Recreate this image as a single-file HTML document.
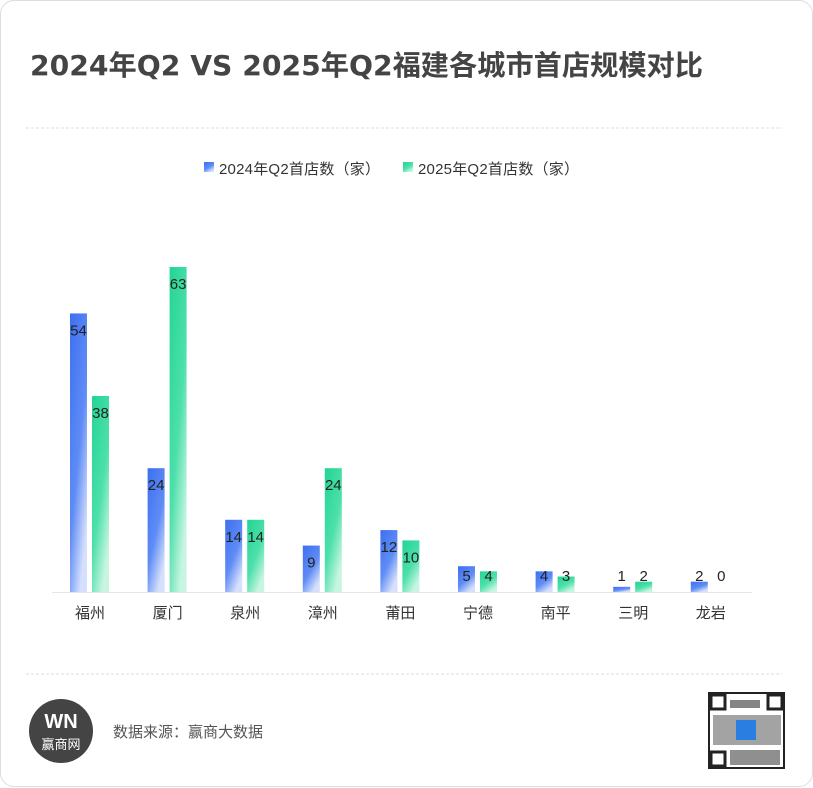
<!DOCTYPE html>
<html><head><meta charset="utf-8"><style>
body{margin:0;background:#fff;font-family:"Liberation Sans","Noto Sans CJK SC",sans-serif;}
#card{position:absolute;left:0;top:0;width:811px;height:785px;border:1px solid #ddd;border-radius:14px;box-sizing:content-box;}
</style></head><body>
<div id="card"></div>
<svg id="chart" width="813" height="788" style="position:absolute;left:0;top:0">
<defs>
<linearGradient id="gb" x1="0" y1="0" x2="0.6" y2="1"><stop offset="0" stop-color="#3d6ff0"/><stop offset="0.6" stop-color="#5f8cf5"/><stop offset="1" stop-color="#d6e0fc"/></linearGradient>
<linearGradient id="gg" x1="0" y1="0" x2="0.6" y2="1"><stop offset="0" stop-color="#22d494"/><stop offset="0.6" stop-color="#4de0aa"/><stop offset="1" stop-color="#c8f5e2"/></linearGradient>
</defs>
<text x="30" y="75" font-size="28" font-weight="bold" fill="#444" textLength="673" lengthAdjust="spacingAndGlyphs" font-family="'DejaVu Sans','Noto Sans CJK SC',sans-serif">2024年Q2 VS 2025年Q2福建各城市首店规模对比</text>
<line x1="26" y1="128" x2="782" y2="128" stroke="#ddd" stroke-dasharray="3,2"/>
<line x1="26" y1="674" x2="782" y2="674" stroke="#ddd" stroke-dasharray="3,2"/>
<g>
<rect x="204" y="162" width="10" height="10" fill="url(#gb)"/>
<text x="219" y="174" font-size="15" fill="#333" textLength="161">2024年Q2首店数（家）</text>
<rect x="403" y="162" width="10" height="10" fill="url(#gg)"/>
<text x="418" y="174" font-size="15" fill="#333" textLength="161">2025年Q2首店数（家）</text>
</g>
<line x1="52" y1="592.5" x2="752" y2="592.5" stroke="#e6e6e6"/>
<g id="bars"></g>
<g>
<circle cx="61" cy="731" r="32" fill="#444"/>
<text x="61" y="728" font-size="20" font-weight="bold" fill="#fff" text-anchor="middle">WN</text>
<text x="61" y="749" font-size="13" fill="#fff" text-anchor="middle">赢商网</text>
<text x="113" y="737" font-size="15" fill="#555">数据来源：赢商大数据</text>
<g>
<rect x="709" y="693" width="75" height="75" fill="#fff" stroke="#222" stroke-width="2"/>
<rect x="711" y="695" width="14" height="14" fill="none" stroke="#222" stroke-width="3"/>
<rect x="768" y="695" width="14" height="14" fill="none" stroke="#222" stroke-width="3"/>
<rect x="711" y="752" width="14" height="14" fill="none" stroke="#222" stroke-width="3"/>
<rect x="730" y="700" width="30" height="8" fill="#333" opacity="0.6"/>
<rect x="713" y="715" width="68" height="30" fill="#333" opacity="0.45"/>
<rect x="730" y="750" width="50" height="15" fill="#333" opacity="0.55"/>
<rect x="736" y="720" width="20" height="20" fill="#2a7de1"/>
</g>
</g>
</svg>
<script>
const categories=["福州","厦门","泉州","漳州","莆田","宁德","南平","三明","龙岩"];
const values2024=[54,24,14,9,12,5,4,1,2];
const values2025=[38,63,14,24,10,4,3,2,0];
const NS="http://www.w3.org/2000/svg";
const g=document.getElementById('bars');
const base=592, scale=325/63, x0=90, step=77.6, bw=17;
const yPos=v=>base-v*scale;
const xCenter=i=>x0+i*step;
function mk(tag,attrs){const e=document.createElementNS(NS,tag);for(const k in attrs)e.setAttribute(k,attrs[k]);g.appendChild(e);return e;}
categories.forEach((c,i)=>{
  const cx=xCenter(i);
  [[values2024[i],cx-20,'url(#gb)','2024'],[values2025[i],cx+2,'url(#gg)','2025']].forEach(([v,x,f,s])=>{
    const r=mk('rect',{x:x,y:yPos(v),width:bw,height:v*scale,fill:f});
    
    
    const ty=Math.min(yPos(v)+22,581);
    const t=mk('text',{x:x+bw/2,y:ty,'font-size':15,fill:'#222','text-anchor':'middle'});
    t.textContent=v;
    
    
  });
  const l=mk('text',{x:cx,y:618,'font-size':15,fill:'#333','text-anchor':'middle'});
  l.textContent=c;
  
  
});
</script>
</body></html>
